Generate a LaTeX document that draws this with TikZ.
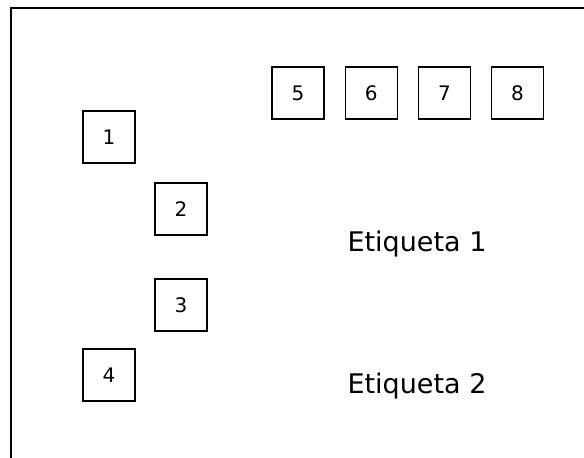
\documentclass[tikz,border=0pt]{standalone}
\usepackage{fontspec}
\setmainfont{DejaVu Sans}
\usetikzlibrary{positioning}
\tikzstyle{box} = [rectangle, minimum width = 52, minimum height = 52,
  draw = black, line width = 1.2, text centered,
  font = \fontsize{20}{24}\selectfont]
\tikzstyle{etiqueta} = [font = \fontsize{27}{32}\selectfont]

\begin{document}
\begin{tikzpicture}[x = 1pt, y = -1pt, node distance = 20]
      \useasboundingbox (0, 0) rectangle (584, 458);
      % marco
      \coordinate (marco-a) at (584, 8);
      \coordinate (marco-b) at (11, 8);
      \coordinate (marco-c) at (11, 458);
      \draw [line width = 2] (marco-a) -- (marco-b) -- (marco-c);
      % columna izquierda
      \node [box] (box-1) at (109, 137) {1};
      \node [box] (box-2) at (181, 209) {2};
      \node [box] (box-3) at (181, 305) {3};
      \node [box] (box-4) at (109, 375) {4};
      % fila superior
      \node [box] (box-5) at (298, 93) {5};
      \node [box, right = of box-5] (box-6) {6};
      \node [box, right = of box-6] (box-7) {7};
      \node [box, right = of box-7] (box-8) {8};
      % etiquetas
      \node [etiqueta] (etiqueta-1) at (417, 244) {Etiqueta 1};
      \node [etiqueta] (etiqueta-2) at (417, 386) {Etiqueta 2};
    \end{tikzpicture}
\end{document}
